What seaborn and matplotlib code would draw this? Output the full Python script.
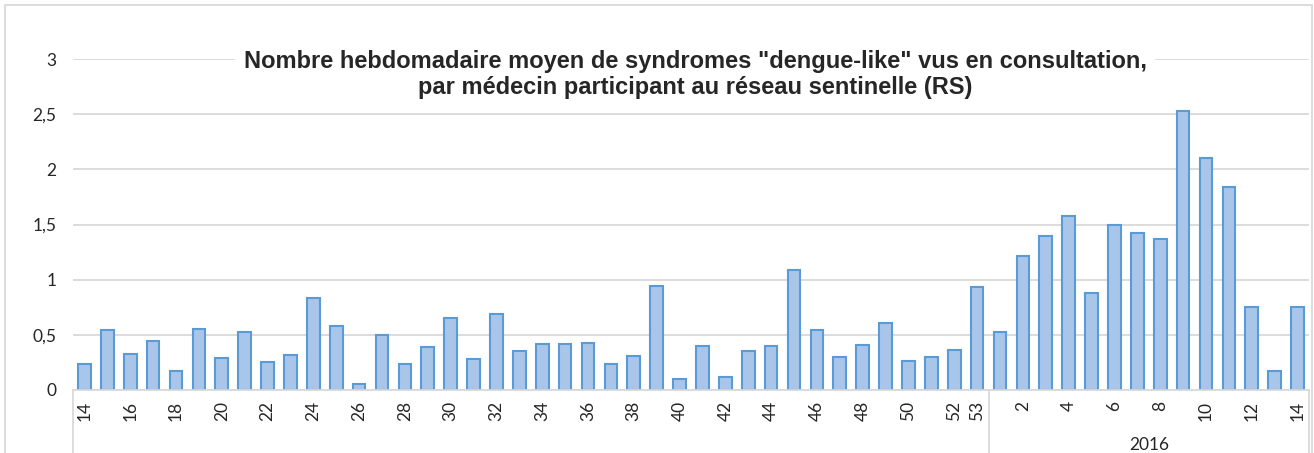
import numpy as np
import matplotlib.pyplot as plt
from matplotlib.patches import Rectangle
import seaborn as sns
import pandas as pd

# --- données ---
semaines_2015 = list(range(14, 54))
semaines_2016 = list(range(1, 15))
valeurs_2015 = [0.24, 0.54, 0.33, 0.44, 0.175, 0.555, 0.29, 0.53, 0.25, 0.32,
                0.83, 0.58, 0.05, 0.50, 0.235, 0.39, 0.65, 0.28, 0.69, 0.35,
                0.42, 0.42, 0.43, 0.24, 0.31, 0.945, 0.10, 0.40, 0.115, 0.35,
                0.40, 1.09, 0.54, 0.30, 0.41, 0.61, 0.26, 0.30, 0.36, 0.93]
valeurs_2016 = [0.53, 1.21, 1.40, 1.58, 0.88, 1.50, 1.42, 1.37, 2.53, 2.10,
                1.84, 0.75, 0.175, 0.75]
semaines_affichees_2015 = list(range(14, 53, 2)) + [53]
semaines_affichees_2016 = list(range(2, 15, 2))
titre = ('Nombre hebdomadaire moyen de syndromes "dengue-like" vus en consultation,\n'
         'par médecin participant au réseau sentinelle (RS)')

df = pd.DataFrame({
    "annee": [2015] * len(semaines_2015) + [2016] * len(semaines_2016),
    "semaine": semaines_2015 + semaines_2016,
    "valeur": valeurs_2015 + valeurs_2016,
})
df["cle"] = df["annee"].astype(str) + "-" + df["semaine"].astype(str)

# --- figure ---
sns.set_style("white")
plt.rcParams['font.family'] = ['Lato', 'DejaVu Sans']
fig = plt.figure(figsize=(13.14, 4.53), dpi=100)
ax = fig.add_axes([73 / 1314, 1 - 390 / 453, (1309 - 73) / 1314, 331 / 453])

sns.barplot(data=df, x="cle", y="valeur", order=df["cle"], color="#a9c6ea",
            edgecolor="#5b9bd5", linewidth=1.5, width=0.55, saturation=1, ax=ax)

ax.set_xlim(-0.5, len(df) - 0.5)
ax.set_ylim(0, 3)
ax.set_yticks([0, 0.5, 1, 1.5, 2, 2.5, 3])
ax.set_yticklabels(["0", "0,5", "1", "1,5", "2", "2,5", "3"])
ax.yaxis.grid(True, color="#d9d9d9", lw=1.3)
ax.set_axisbelow(True)
ax.set_xlabel("")
ax.set_ylabel("")

# étiquettes de l'axe x
pos, lab = [], []
for i, (a, s) in enumerate(zip(df["annee"], df["semaine"])):
    if (a == 2015 and s in semaines_affichees_2015) or (a == 2016 and s in semaines_affichees_2016):
        pos.append(i)
        lab.append(str(s))
ax.set_xticks(pos)
ax.set_xticklabels(lab, rotation=90)
ax.tick_params(axis="x", length=0, pad=8, labelsize=12.5, labelcolor="#262626")
ax.tick_params(axis="y", length=0, pad=12, labelsize=12.5, labelcolor="#262626")

for sp in ["top", "right", "left"]:
    ax.spines[sp].set_visible(False)
ax.spines["bottom"].set_color("#d9d9d9")
ax.spines["bottom"].set_linewidth(1.3)

# séparateurs de groupes (année)
n2015 = len(semaines_2015)
trans = ax.get_xaxis_transform()
for xs in [-0.5, n2015 - 0.5, len(df) - 0.5]:
    ax.plot([xs, xs], [0, -0.3], color="#d9d9d9", lw=1.3, transform=trans, clip_on=False)
ax.text((n2015 - 0.5 + len(df) - 0.5) / 2, -0.166, "2016", transform=trans,
        ha="center", va="center", fontsize=12.5, color="#262626")

# titre
fig.text(695 / 1314, 1 - 74.5 / 453, titre, ha="center", va="center",
         fontsize=17, fontweight="bold", family=["Liberation Sans", "DejaVu Sans"],
         linespacing=1.22, bbox=dict(facecolor="white", edgecolor="none", pad=6))

# cadre du graphique
fig.patches.append(Rectangle((5 / 1314, -0.1), (1312 - 5) / 1314, 1.1 - 5 / 453,
                             transform=fig.transFigure, fill=False,
                             edgecolor="#d9d9d9", lw=1.3))

plt.savefig("out.png", dpi=100)
